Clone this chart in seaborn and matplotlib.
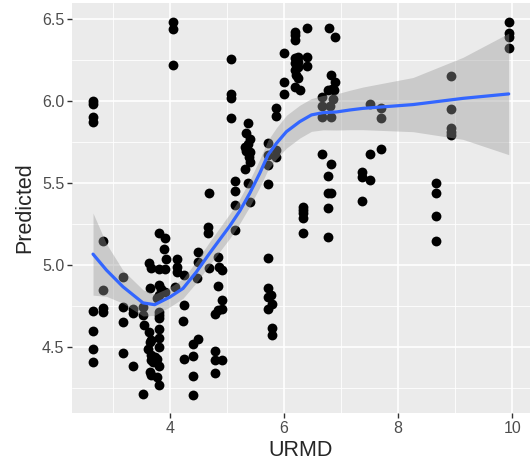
import numpy as np
import pandas as pd
import seaborn as sns
import matplotlib.pyplot as plt
from matplotlib.ticker import MultipleLocator

# points
urmd = [
    2.66, 2.66, 2.66, 2.66, 2.65, 2.65, 2.65, 2.65,
    2.84, 2.84, 2.84, 2.84,
    3.19, 3.19, 3.19, 3.19,
    3.36, 3.36, 3.36,
    3.54, 3.54, 3.55, 3.54,
    3.63, 3.67, 3.65, 3.63, 3.68, 3.65, 3.62, 3.68, 3.74, 3.67, 3.77, 3.71, 3.65, 3.68, 3.77, 3.77,
    3.82, 3.91, 3.90, 3.94, 3.82, 3.92, 3.81, 3.85, 3.91, 3.81, 3.81, 3.82, 3.82, 3.81, 3.81, 3.81, 3.81, 3.81,
    4.05, 4.05, 4.05,
    4.12, 4.12, 4.12, 4.10,
    4.25, 4.25, 4.24, 4.25,
    4.50, 4.50, 4.48, 4.50, 4.41, 4.41, 4.41, 4.41,
    4.68, 4.67, 4.67, 4.69,
    4.85, 4.86, 4.91, 4.85, 4.91, 4.79, 4.85, 4.91, 4.79, 4.79, 4.91, 4.79,
    5.08, 5.08, 5.08, 5.08, 5.14, 5.14, 5.14, 5.14,
    5.37, 5.33, 5.40, 5.31, 5.37, 5.40, 5.33, 5.39, 5.40, 5.31, 5.37, 5.40,
    5.73, 5.73, 5.73, 5.73, 5.86, 5.86, 5.86, 5.86, 5.73, 5.73, 5.78, 5.73, 5.79, 5.73, 5.79, 5.79,
    6.01, 6.01, 6.01, 6.19, 6.19, 6.19, 6.40, 6.19, 6.25, 6.25, 6.19, 6.25, 6.19, 6.22, 6.25,
    6.40, 6.40, 6.19, 6.28, 6.33, 6.33, 6.33, 6.33, 6.33,
    6.79, 6.90, 6.83, 6.89, 6.77, 6.84, 6.88, 6.66, 6.86, 6.66, 6.80, 6.66, 6.83, 6.66,
    6.83, 6.77, 6.77, 6.83, 6.77, 6.77,
    7.50, 7.70, 7.70, 7.70, 7.50, 7.37, 7.37, 7.50, 7.37,
    8.66, 8.66, 8.66, 8.66,
    8.93, 8.93, 8.93, 8.93, 8.93,
    9.94, 9.94, 9.94, 9.94,
]
predicted = [
    6.00, 5.98, 5.905, 5.87, 4.72, 4.60, 4.488, 4.407,
    5.148, 4.848, 4.736, 4.715,
    4.925, 4.742, 4.654, 4.462,
    4.73, 4.706, 4.387,
    4.742, 4.695, 4.638, 4.213,
    5.011, 4.98, 4.862, 4.594, 4.543, 4.529, 4.49, 4.451, 4.441, 4.421, 4.431, 4.41, 4.35, 4.329, 4.319, 4.80,
    5.193, 5.163, 5.098, 5.035, 4.974, 4.974, 4.878, 4.854, 4.837, 4.817, 4.715, 4.695, 4.679, 4.61, 4.557, 4.502, 4.386, 4.272,
    6.483, 6.437, 6.22,
    5.04, 4.99, 4.96, 4.868,
    4.94, 4.756, 4.66, 4.427,
    5.077, 5.02, 4.92, 4.553, 4.52, 4.445, 4.323, 4.207,
    5.44, 5.23, 5.193, 4.98,
    5.05, 4.99, 4.97, 4.87, 4.787, 4.705, 4.726, 4.73, 4.477, 4.42, 4.425, 4.34,
    6.254, 6.04, 6.02, 5.894, 5.514, 5.453, 5.366, 5.213,
    5.864, 5.807, 5.766, 5.72, 5.738, 5.69, 5.697, 5.66, 5.63, 5.585, 5.50, 5.382,
    5.742, 5.67, 5.61, 5.494, 5.70, 5.66, 5.955, 5.909, 5.045, 4.858, 4.817, 4.807, 4.762, 4.73, 4.62, 4.573,
    6.295, 6.118, 6.043, 6.42, 6.40, 6.37, 6.443, 6.26, 6.27, 6.24, 6.23, 6.21, 6.19, 6.16, 6.138,
    6.266, 6.213, 6.083, 6.067, 5.352, 5.335, 5.315, 5.285, 5.193,
    6.443, 6.388, 6.16, 6.118, 6.067, 6.071, 6.067, 6.026, 6.01, 5.97, 5.97, 5.904, 5.90, 5.68,
    5.616, 5.54, 5.44, 5.437, 5.346, 5.17,
    5.982, 5.959, 5.894, 5.71, 5.68, 5.569, 5.539, 5.518, 5.39,
    5.498, 5.437, 5.30, 5.146,
    6.152, 5.95, 5.833, 5.813, 5.793,
    6.484, 6.413, 6.388, 6.32,
]

# loess curve and its confidence half-width
smooth_x = [2.657, 2.891, 3.182, 3.532, 3.737, 4.0, 4.233, 4.468, 4.70, 5.051, 5.226,
            5.401, 5.576, 5.721, 5.869, 6.044, 6.277, 6.482, 6.685, 6.919, 7.152,
            7.385, 8.261, 9.137, 9.937]
smooth_y = [5.067, 4.970, 4.868, 4.770, 4.759, 4.805, 4.858, 4.959, 5.073, 5.238, 5.329,
            5.437, 5.559, 5.671, 5.742, 5.813, 5.874, 5.915, 5.929, 5.933, 5.945,
            5.955, 5.978, 6.016, 6.043]
smooth_ci = [0.25, 0.16, 0.10, 0.08, 0.065, 0.06, 0.06, 0.065, 0.07, 0.075, 0.075,
             0.08, 0.085, 0.09, 0.095, 0.10, 0.10, 0.10, 0.105, 0.11, 0.12,
             0.13, 0.165, 0.25, 0.37]

df = pd.DataFrame({"URMD": urmd, "Predicted": predicted})
fit = pd.DataFrame({"x": smooth_x, "y": smooth_y, "ci": smooth_ci})

sns.set_style("darkgrid", {"axes.facecolor": "#EBEBEB", "grid.color": "white"})
plt.rcParams["font.family"] = ["Liberation Sans", "DejaVu Sans"]

fig, ax = plt.subplots(figsize=(5.30, 4.69), dpi=100)
fig.subplots_adjust(left=0.136, right=1.0, top=0.994, bottom=0.119)

sns.scatterplot(data=df, x="URMD", y="Predicted", color="black", s=50,
                linewidth=0, ax=ax, zorder=3)
ax.fill_between(fit["x"], fit["y"] - fit["ci"], fit["y"] + fit["ci"],
                color="#999999", alpha=0.4, linewidth=0, zorder=4)
sns.lineplot(data=fit, x="x", y="y", color="#3366FF", linewidth=2.3, ax=ax, zorder=5)

ax.set_xlim(2.29, 10.31)
ax.set_ylim(4.098, 6.598)
ax.xaxis.set_major_locator(MultipleLocator(2))
ax.xaxis.set_minor_locator(MultipleLocator(1))
ax.yaxis.set_major_locator(MultipleLocator(0.5))
ax.yaxis.set_minor_locator(MultipleLocator(0.25))
ax.grid(which="major", color="white", linewidth=1.2)
ax.grid(which="minor", color="white", linewidth=0.6)
ax.set_axisbelow(True)
for s in ax.spines.values():
    s.set_visible(False)

ax.tick_params(which="major", length=3.5, width=1, color="#333333",
               labelsize=11.5, labelcolor="#4D4D4D", pad=2, bottom=True, left=True)
ax.tick_params(which="minor", length=0)
ax.set_xlabel("URMD", fontsize=15.5, labelpad=3)
ax.set_ylabel("Predicted", fontsize=15.5, labelpad=5)

fig.savefig("out.png", dpi=100)
